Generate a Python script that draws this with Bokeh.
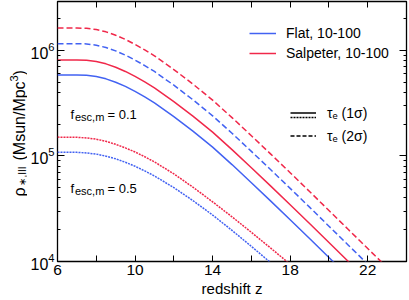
import numpy as np
from bokeh.plotting import figure
from bokeh.layouts import row
from bokeh.models import (LinearAxis, LogAxis, FixedTicker, LogTicker, Range1d,
                          Legend, LegendItem, Label, CustomJSTickFormatter)
from bokeh.embed import file_html
from bokeh.resources import INLINE

FONT = "Liberation Sans"
BLUE = "#4262f2"
RED = "#f0284a"

# ---------------- data ----------------
z_main = [6, 7, 7.5, 8, 8.5, 9, 9.5, 10, 10.5, 11, 12, 13, 14, 15, 16, 17,
          18, 19, 20, 21, 22, 23]
flat_1s = [5.834e5, 5.834e5, 5.808e5, 5.649e5, 5.370e5, 4.989e5, 4.550e5, 4.083e5,
           3.622e5, 3.184e5, 2.360e5, 1.710e5, 1.211e5, 8.279e4, 5.572e4, 3.733e4,
           2.489e4, 1.652e4, 1.091e4, 7.211e3]
salp_1s = [8.091e5, 8.091e5, 8.055e5, 7.834e5, 7.447e5, 6.919e5, 6.310e5, 5.662e5,
           5.023e5, 4.416e5, 3.273e5, 2.371e5, 1.679e5, 1.148e5, 7.727e4, 5.177e4,
           3.452e4, 2.291e4, 1.513e4, 1.000e4, 6.607e3]
flat_2s = [1.155e6, 1.155e6, 1.150e6, 1.119e6, 1.063e6, 9.878e5, 9.009e5, 8.084e5,
           7.172e5, 6.304e5, 4.673e5, 3.386e5, 2.398e5, 1.639e5, 1.103e5, 7.391e4,
           4.928e4, 3.271e4, 2.160e4, 1.428e4, 9.433e3]
salp_2s = [1.625e6, 1.625e6, 1.618e6, 1.574e6, 1.496e6, 1.390e6, 1.268e6, 1.138e6,
           1.009e6, 8.871e5, 6.575e5, 4.764e5, 3.374e5, 2.307e5, 1.552e5, 1.040e5,
           6.934e4, 4.602e4, 3.040e4, 2.009e4, 1.327e4, 8.770e3]
z_f05 = [6, 7, 7.5, 8, 8.5, 9, 9.5, 10, 10.5, 11, 12, 13, 14, 15, 16, 17, 18]
flat_f05 = [1.086e5, 1.081e5, 1.067e5, 1.040e5, 9.95e4, 9.38e4, 8.71e4, 7.98e4,
            7.21e4, 6.457e4, 5.012e4, 3.758e4, 2.754e4, 1.972e4, 1.390e4, 9.73e3]
salp_f05 = [1.507e5, 1.500e5, 1.479e5, 1.439e5, 1.374e5, 1.288e5, 1.191e5, 1.089e5,
            9.82e4, 8.77e4, 6.761e4, 5.035e4, 3.673e4, 2.649e4, 1.888e4, 1.337e4, 9.419e3]

x_major_ticks = [6, 10, 14, 18, 22]
x_minor_ticks = [8, 12, 16, 20, 24]

# ---------------- y-axis title strip (left) ----------------
YW = 27
ylab = figure(frame_width=YW, frame_height=300, x_range=Range1d(0, YW),
              y_range=Range1d(300, 0),
              output_backend="svg", toolbar_location=None,
              x_axis_location=None, y_axis_location=None,
              min_border=0, min_border_left=0, min_border_right=0,
              min_border_top=0, min_border_bottom=0)
ylab.grid.visible = False
ylab.outline_line_color = None

def ytxt(text, px, py, size):
    ylab.add_layout(Label(x=px, y=py, text=text, text_font=FONT, text_font_size=size,
                          text_color="black", angle=np.pi / 2, text_align="left",
                          text_baseline="alphabetic"))

ytxt("ρ", 18.5, 195, "16px")
ytxt("∗,III", 22, 184, "10px")
ytxt("(Msun/Mpc", 18.5, 159, "16px")
ytxt("3", 13, 80, "11px")
ytxt(")", 18.5, 74, "16px")

# ---------------- main figure ----------------
p = figure(frame_width=349, frame_height=260,
           x_range=Range1d(6, 24), y_range=Range1d(1e4, 2.9e6),
           y_axis_type="log", output_backend="svg", toolbar_location=None,
           min_border_left=54 - YW, min_border_right=6, min_border_top=1,
           min_border_bottom=39)
p.grid.visible = False
p.outline_line_color = "black"
p.outline_line_width = 1.3
p.background_fill_color = "white"

def style_axis(ax, labels=True, size="15px"):
    ax.axis_line_color = None
    ax.major_tick_in = 6
    ax.major_tick_out = 0
    ax.minor_tick_in = 3
    ax.minor_tick_out = 0
    ax.major_tick_line_color = "black"
    ax.minor_tick_line_color = "black"
    ax.major_tick_line_width = 1
    ax.minor_tick_line_width = 1
    if labels:
        ax.major_label_text_font = FONT
        ax.major_label_text_font_size = size
        ax.major_label_text_color = "black"
    else:
        ax.formatter = CustomJSTickFormatter(code="return ''")
        ax.major_label_text_font_size = "0px"
        ax.major_label_standoff = 0

xa = p.xaxis[0]
xa.ticker = FixedTicker(ticks=x_major_ticks, minor_ticks=x_minor_ticks)
style_axis(xa, size="15.5px")
xa.minor_tick_in = 6
xa.major_label_standoff = 3
xa.axis_label = "redshift z"
xa.axis_label_text_font = FONT
xa.axis_label_text_font_size = "15px"
xa.axis_label_text_font_style = "normal"
xa.axis_label_text_color = "black"
xa.axis_label_standoff = 2

ya = p.yaxis[0]
ya.ticker = LogTicker(num_minor_ticks=10)
style_axis(ya, size="16px")
ya.major_tick_in = 7
ya.major_label_standoff = 3

top = LinearAxis(ticker=FixedTicker(ticks=x_major_ticks, minor_ticks=x_minor_ticks))
style_axis(top, labels=False)
top.minor_tick_in = 6
p.add_layout(top, "above")

right = LogAxis(ticker=LogTicker(num_minor_ticks=10))
style_axis(right, labels=False)
right.major_tick_in = 7
p.add_layout(right, "right")

# ---------------- curves ----------------
lw = 1.5
r_flat1 = p.line(z_main[:len(flat_1s)], flat_1s, color=BLUE, line_width=lw)
r_salp1 = p.line(z_main[:len(salp_1s)], salp_1s, color=RED, line_width=lw)
p.line(z_main[:len(flat_2s)], flat_2s, color=BLUE, line_width=lw, line_dash="6 3")
p.line(z_main[:len(salp_2s)], salp_2s, color=RED, line_width=lw, line_dash="6 3")
p.line(z_f05[:len(flat_f05)], flat_f05, color=BLUE, line_width=lw, line_dash="2 1")
p.line(z_f05[:len(salp_f05)], salp_f05, color=RED, line_width=lw, line_dash="2 1")

# legend key stubs (no visible data)
k_solid = p.line([np.nan], [np.nan], color="black", line_width=1.5)
k_dot = p.line([np.nan], [np.nan], color="black", line_width=1.5, line_dash="2 1")
k_dash = p.line([np.nan], [np.nan], color="black", line_width=1.5, line_dash="4 2")

def make_legend(items, loc, gw, gh, standoff, fs):
    lg = Legend(items=items, location=loc, glyph_width=gw, glyph_height=gh,
                label_height=gh, spacing=0, padding=0, margin=0,
                label_standoff=standoff, border_line_color=None,
                background_fill_alpha=0, label_text_font=FONT,
                label_text_font_size=fs, label_text_color="black")
    p.add_layout(lg)

make_legend([LegendItem(label="Flat, 10-100", renderers=[r_flat1]),
             LegendItem(label="Salpeter, 10-100", renderers=[r_salp1])],
            (192, 198), 27, 20, 10, "14px")
make_legend([LegendItem(label="τₑ (1σ)", renderers=[k_solid]),
             LegendItem(label="τₑ (2σ)", renderers=[k_dash])],
            (233, 114), 26, 23, 11, "14px")
make_legend([LegendItem(label=" ", renderers=[k_dot])],
            (233, 139), 26, 10, 11, "1px")

# ---------------- in-plot texts (page px -> frame screen units) ----------------
def lab(text, px, py, size):
    p.add_layout(Label(x=px - 54, y=261 - py, x_units="screen", y_units="screen",
                       text=text, text_font=FONT, text_font_size=size,
                       text_color="black", text_align="left",
                       text_baseline="alphabetic"))

for base_y, val in ((114, "0.1"), (188, "0.5")):
    lab("f", 67, base_y, "13px")
    lab("esc,m", 71.5, base_y + 2, "11px")
    lab("= " + val, 104, base_y, "13px")

open("out.html", "w").write(file_html(row(ylab, p), INLINE))
